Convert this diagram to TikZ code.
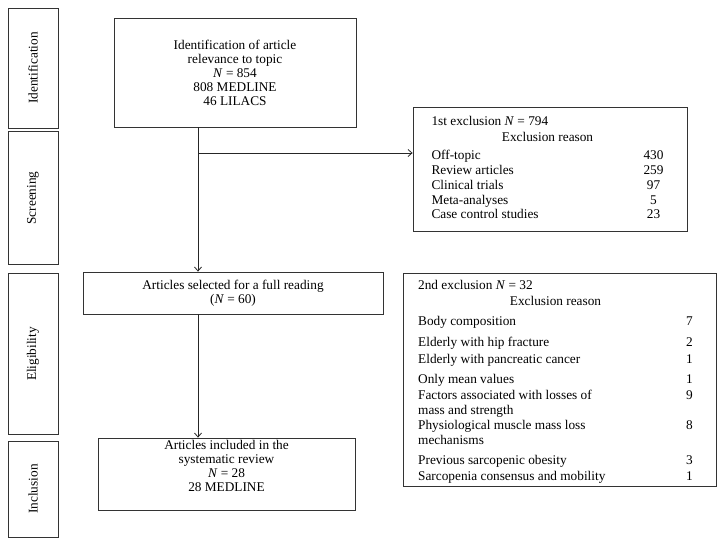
\documentclass[tikz,border=0pt]{standalone}
\usepackage{fontspec}
\setmainfont{Liberation Serif}
\usepackage{array}
\usetikzlibrary{arrows.meta}
\newcommand{\nn}{\textit{N}}

\begin{document}
\begin{tikzpicture}[x=1pt,y=-1pt,
    font=\fontsize{13.3}{14}\selectfont,
    box/.style={draw=black!80,line width=0.8pt,align=center,inner sep=0pt},
    stage/.style={box,rotate=90,minimum height=50},
    reasons/.style={box,font=\fontsize{13.3}{14.8}\selectfont},
    link/.style={draw=black!85,line width=0.8pt,-{Straight Barb[length=4pt,width=7pt]}}]
    \useasboundingbox (0,0) rectangle (725,546);
    % stages on the left
    \node[stage,minimum width=120] (sid) at (33,68) {Identification};
    \node[stage,minimum width=133] (sscr) at (33,198) {Screening};
    \node[stage,minimum width=161] (selig) at (33,354) {Eligibility};
    \node[stage,minimum width=96] (sincl) at (33,489) {Inclusion};
    % flow boxes
    \node[box,minimum width=242,minimum height=109] (ident) at (235,72.5)
        {Identification of article\\relevance to topic\\\nn{} = 854\\808 MEDLINE\\46 LILACS};
    \node[box,minimum width=300,minimum height=42] (select) at (233,293)
        {Articles selected for a full reading\\(\nn{} = 60)};
    \node[box,minimum width=257,minimum height=72] (incl) at (226.5,474)
        {Articles included in the\\systematic review\\\nn{} = 28\\28 MEDLINE\\[3pt]\mbox{}};
    % exclusion boxes
    \node[reasons,minimum width=274,minimum height=124] (excl1) at (550,169) {%
        \begin{tabular}{@{}p{212pt}@{}c@{}}
        1st exclusion \nn{} = 794 & \\[2pt]
        \multicolumn{2}{c}{Exclusion reason}\\[3pt]
        Off-topic & 430\\
        Review articles & 259\\
        Clinical trials & 97\\
        Meta-analyses & 5\\
        Case control studies & 23
        \end{tabular}\hspace*{5pt}};
    \node[reasons,minimum width=313,minimum height=213] (excl2) at (559.5,379.5) {%
        \begin{tabular}{@{}p{268pt}@{}c@{}}
        \noalign{\vspace{5pt}}
        2nd exclusion \nn{} = 32 & \\[2pt]
        \multicolumn{2}{c}{Exclusion reason}\\[5pt]
        Body composition & 7\\[6pt]
        Elderly with hip fracture & 2\\[2pt]
        Elderly with pancreatic cancer & 1\\[5pt]
        Only mean values & 1\\[2pt]
        Factors associated with losses of\newline mass and strength & 9\\[2pt]
        Physiological muscle mass loss\newline mechanisms & 8\\
        \noalign{\vspace{5pt}}
        Previous sarcopenic obesity & 3\\[2pt]
        Sarcopenia consensus and mobility & 1
        \end{tabular}\hspace*{8pt}};
    % connectors
    \coordinate (spine) at (198,0);
    \coordinate (branch) at (198,153);
    \draw[link] (ident.south -| spine) -- (select.north -| spine);
    \draw[link] (select.south -| spine) -- (incl.north -| spine);
    \draw[link] (branch) -- (branch -| excl1.west);
\end{tikzpicture}
\end{document}
